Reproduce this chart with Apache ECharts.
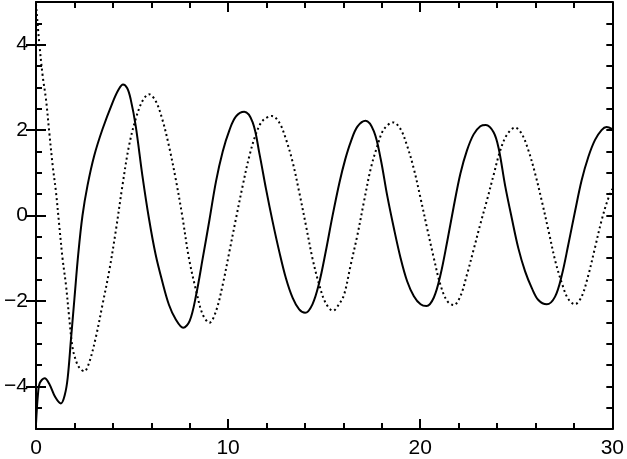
<!DOCTYPE html>
<html>
<head>
<meta charset="utf-8">
<script src="https://cdn.jsdelivr.net/npm/echarts@6/dist/echarts.min.js"></script>
<style>
html,body{margin:0;padding:0;background:#fff;}
#chart{width:627px;height:459px;}
</style>
</head>
<body>
<div id="chart"></div>
<script>
// Solid curve
var solidT = [0, 0.1, 0.2, 0.45, 0.7, 1.0, 1.3, 1.5, 1.65, 1.82, 2.0, 2.2, 2.42, 2.68, 3.03, 3.46, 3.98, 4.3, 4.53, 4.75, 4.93, 5.19, 5.54, 5.88, 6.23, 6.57, 6.92, 7.27, 7.66, 8.0, 8.34, 8.68, 9.03, 9.37, 9.72, 10.07, 10.41, 10.84, 11.28, 11.63, 11.97, 12.32, 12.66, 13.01, 13.36, 13.7, 14.01, 14.39, 14.74, 15.08, 15.43, 15.8, 16.1, 16.38, 16.73, 17.16, 17.59, 17.94, 18.28, 18.63, 18.98, 19.32, 19.67, 20.02, 20.33, 20.71, 21.05, 21.4, 21.74, 22.09, 22.43, 22.78, 23.13, 23.42, 23.82, 24.08, 24.42, 24.77, 25.11, 25.46, 25.81, 26.15, 26.59, 27.02, 27.37, 27.71, 28.06, 28.4, 28.75, 29.1, 29.44, 29.7, 30];
var solidY = [-4.88, -4.2, -3.92, -3.81, -3.95, -4.25, -4.4, -4.2, -3.8, -2.9, -1.95, -0.9, 0.0, 0.7, 1.4, 2.02, 2.64, 2.95, 3.07, 2.98, 2.72, 2.1, 0.93, -0.07, -0.92, -1.54, -2.09, -2.43, -2.63, -2.47, -1.85, -1.0, -0.1, 0.8, 1.5, 2.0, 2.32, 2.43, 2.18, 1.45, 0.63, -0.15, -0.84, -1.47, -1.93, -2.2, -2.28, -2.08, -1.58, -0.85, -0.02, 0.78, 1.32, 1.72, 2.08, 2.22, 1.97, 1.33, 0.47, -0.3, -1.0, -1.54, -1.89, -2.08, -2.12, -1.92, -1.4, -0.62, 0.2, 0.98, 1.52, 1.9, 2.09, 2.12, 1.95, 1.58, 0.7, -0.07, -0.77, -1.31, -1.7, -1.98, -2.08, -1.9, -1.4, -0.68, 0.1, 0.82, 1.37, 1.77, 2.0, 2.07, 2.02];
// Dotted curve
var dottedT = [0, 0.17, 0.35, 0.52, 0.69, 0.87, 1.04, 1.21, 1.38, 1.56, 1.73, 1.9, 2.08, 2.25, 2.51, 2.77, 3.11, 3.46, 3.81, 4.15, 4.5, 4.84, 5.19, 5.54, 5.88, 6.23, 6.57, 6.92, 7.27, 7.61, 7.96, 8.34, 8.68, 9.03, 9.37, 9.72, 10.07, 10.41, 10.76, 11.11, 11.45, 11.8, 12.28, 12.66, 13.01, 13.36, 13.7, 14.05, 14.39, 14.74, 15.08, 15.46, 15.77, 16.04, 16.38, 16.73, 17.07, 17.42, 17.77, 18.11, 18.6, 18.98, 19.32, 19.67, 20.02, 20.36, 20.71, 21.05, 21.4, 21.74, 22.09, 22.43, 22.78, 23.13, 23.47, 23.82, 24.15, 24.5, 24.94, 25.3, 25.65, 26.0, 26.35, 26.7, 27.05, 27.4, 27.7, 28.05, 28.4, 28.75, 29.1, 29.45, 29.75, 30];
var dottedY = [4.95, 4.04, 3.26, 2.72, 1.95, 1.16, 0.55, -0.23, -1.0, -1.63, -2.4, -3.09, -3.4, -3.56, -3.65, -3.44, -2.86, -2.09, -1.3, -0.37, 0.7, 1.63, 2.26, 2.68, 2.84, 2.68, 2.26, 1.63, 0.86, 0.0, -1.0, -1.77, -2.32, -2.51, -2.24, -1.62, -0.84, -0.07, 0.7, 1.4, 1.91, 2.22, 2.33, 2.18, 1.79, 1.25, 0.55, -0.23, -1.0, -1.62, -2.05, -2.23, -2.08, -1.85, -1.16, -0.46, 0.32, 1.09, 1.63, 2.02, 2.18, 2.02, 1.63, 1.09, 0.4, -0.3, -1.0, -1.62, -2.0, -2.1, -1.89, -1.39, -0.8, -0.2, 0.35, 0.95, 1.5, 1.88, 2.06, 1.9, 1.5, 0.95, 0.3, -0.4, -1.1, -1.62, -1.95, -2.08, -1.9, -1.4, -0.75, -0.1, 0.35, 0.62];
// Tick labels
var xTickValues = [0, 10, 20, 30];
var yMajorValues = [-4, -2, 0, 2, 4];

function pairs(ts, ys) { return ts.map(function (t, i) { return [t, ys[i]]; }); }
function fmtY(v) { return v < 0 ? '\u2212' + Math.abs(v) : String(v); }

var chart = echarts.init(document.getElementById('chart'), null, {renderer: 'canvas'});
var black = '#000';
var labelFont = {color: black, fontSize: 21, fontFamily: 'Liberation Sans'};

function xAx(pos, showLabel) {
  return {
    type: 'value', position: pos, min: 0, max: 30, interval: 10,
    axisLine: {show: true, onZero: false, lineStyle: {color: black, width: 2}},
    axisTick: {show: true, inside: true, length: 10, lineStyle: {color: black, width: 2}},
    minorTick: {show: true, splitNumber: 5, length: 6, lineStyle: {color: black, width: 2}},
    splitLine: {show: false}, minorSplitLine: {show: false},
    axisLabel: Object.assign({show: showLabel, margin: 9,
      formatter: function (v) { return xTickValues.indexOf(v) >= 0 ? String(v) : ''; }}, labelFont)
  };
}
function yMinor(pos, showLabel) {
  return {
    type: 'value', position: pos, min: -5, max: 5, interval: 0.5,
    axisLine: {show: true, onZero: false, lineStyle: {color: black, width: 2}},
    axisTick: {show: true, inside: true, length: 6, lineStyle: {color: black, width: 2}},
    splitLine: {show: false},
    axisLabel: Object.assign({
      show: showLabel, margin: 8,
      formatter: function (v) { return yMajorValues.indexOf(v) >= 0 ? fmtY(v) : ''; }
    }, labelFont)
  };
}
function yMajor(pos) {
  return {
    type: 'value', position: pos, min: -5, max: 5,
    axisLine: {show: false},
    axisTick: {show: true, inside: true, length: 10, customValues: yMajorValues, lineStyle: {color: black, width: 2}},
    splitLine: {show: false},
    axisLabel: {show: false}
  };
}

chart.setOption({
  animation: false,
  backgroundColor: '#fff',
  grid: {left: 36, right: 13, top: 2, bottom: 27, containLabel: false},
  xAxis: [xAx('bottom', true), xAx('top', false)],
  yAxis: [yMinor('left', true), yMajor('left'), yMinor('right', false), yMajor('right')],
  series: [
    {
      type: 'line', xAxisIndex: 0, yAxisIndex: 0, data: pairs(solidT, solidY),
      showSymbol: false, smooth: 0.35, clip: true,
      lineStyle: {color: black, width: 2, type: 'solid'}
    },
    {
      type: 'line', xAxisIndex: 0, yAxisIndex: 0, data: pairs(dottedT, dottedY),
      showSymbol: false, smooth: 0.35, clip: true,
      lineStyle: {color: black, width: 2, type: [2, 3]}
    }
  ]
});
</script>
</body>
</html>
